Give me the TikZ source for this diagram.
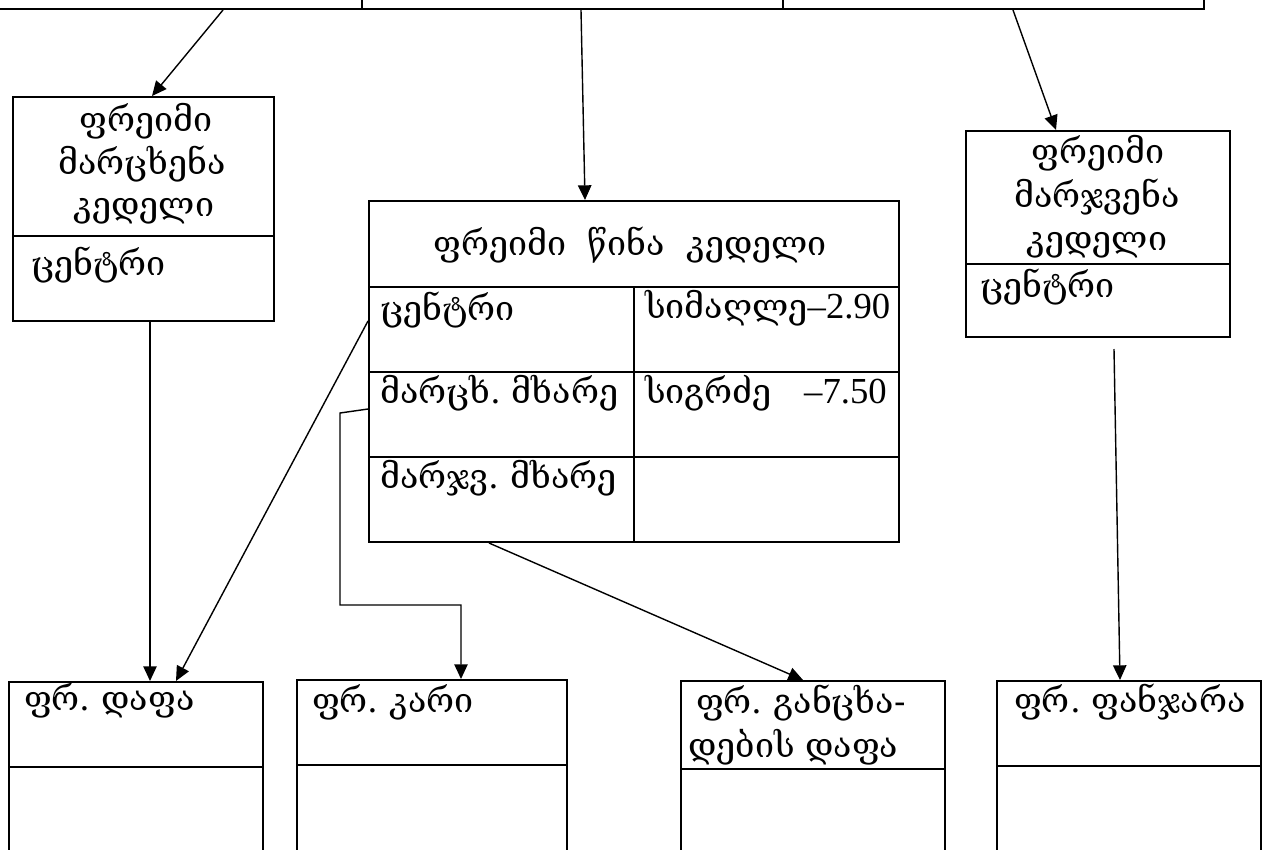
\documentclass[tikz,border=0pt]{standalone}
\usepackage{fontspec}
\setmainfont{Liberation Serif}
\newfontfamily\geo{DejaVu Serif}
\newcommand{\numfont}{\rmfamily\fontsize{27.5}{30}\selectfont}
\usetikzlibrary{arrows.meta,calc}

\begin{document}
\begin{tikzpicture}[x=0.75pt,y=-0.75pt,
  box/.style={draw, line width=1.5pt, inner sep=0pt, anchor=north west},
  sz/.style 2 args={minimum width=#1*0.75pt, minimum height=#2*0.75pt},
  conn/.style={draw, line width=1.05pt, -{Triangle[length=11pt,width=10pt]}},
  txt/.style={inner sep=0pt, font=\geo\fontsize{25.5}{30}\selectfont}
]
\useasboundingbox (0,0) rectangle (1268,850);
\clip (0,0) rectangle (1268,850);
\fill[white] (0,0) rectangle (1268,850);

% upper frame row, cut by the page edge
\node[box, sz={421}{100}] (top1) at (-60,-92) {};
\node[box, sz={421}{100}] (top2) at (361,-92) {};
\node[box, sz={421}{100}] (top3) at (782,-92) {};

% left wall frame
\node[box, sz={261}{139}] (lwh) at (12,96) {};
\node[box, sz={261}{85}]  (lwc) at (12,235) {};

% front wall frame
\node[box, sz={530}{86}] (mwh) at (368,200) {};
\node[box, sz={265}{85}] (r1l) at (368,286) {};
\node[box, sz={265}{85}] (r1r) at (633,286) {};
\node[box, sz={265}{85}] (r2l) at (368,371) {};
\node[box, sz={265}{85}] (r2r) at (633,371) {};
\node[box, sz={265}{85}] (r3l) at (368,456) {};
\node[box, sz={265}{85}] (r3r) at (633,456) {};

% right wall frame
\node[box, sz={264}{133}] (rwh) at (965,130) {};
\node[box, sz={264}{73}]  (rwc) at (965,263) {};

% lower frames
\node[box, sz={254}{85}]  (A)  at (8,681) {};
\node[box, sz={254}{120}] (A2) at (8,766) {};
\node[box, sz={270}{85}]  (B)  at (296,679) {};
\node[box, sz={270}{120}] (B2) at (296,764) {};
\node[box, sz={264}{88}]  (C)  at (680,680) {};
\node[box, sz={264}{120}] (C2) at (680,768) {};
\node[box, sz={264}{85}]  (D)  at (996,680) {};
\node[box, sz={264}{120}] (D2) at (996,765) {};

% texts
\node[txt, anchor=base] (lwt1) at (146,131) {ფრეიმი};
\node[txt, anchor=base] (lwt2) at (142,174) {მარცხენა};
\node[txt, anchor=base] (lwt3) at (144,216) {კედელი};
\node[txt, anchor=base west] (lwt4) at (31,275) {ცენტრი};

\node[txt, anchor=base] (mwt) at (630,255) {ფრეიმი\ \ წინა\ \ კედელი};
\node[txt, anchor=base west] (r1lt) at (380,320) {ცენტრი};
\node[txt, anchor=base west] (r1rt) at (645,318) {სიმაღლე{\numfont –2.90}};
\node[txt, anchor=base west] (r2lt) at (380,403) {მარცხ.\ მხარე};
\node[txt, anchor=base west] (r2rt) at (645,403) {სიგრძე};
\node[txt, anchor=base east] (r2rn) at (887,403) {\numfont –7.50};
\node[txt, anchor=base west] (r3lt) at (380,488) {მარჯვ.\ მხარე};

\node[txt, anchor=base] (rwt1) at (1098,163) {ფრეიმი};
\node[txt, anchor=base] (rwt2) at (1097,207) {მარჯვენა};
\node[txt, anchor=base] (rwt3) at (1097,250) {კედელი};
\node[txt, anchor=base west] (rwt4) at (980,297) {ცენტრი};

\node[txt, anchor=base west] (At) at (24,710) {ფრ.\ დაფა};
\node[txt, anchor=base west] (Bt) at (312,712) {ფრ.\ კარი};
\node[txt, anchor=base west] (Ct1) at (696,713) {ფრ.\ განცხა-};
\node[txt, anchor=base west] (Ct2) at (688,757) {დების\ დაფა};
\node[txt, anchor=base west] (Dt) at (1014,712) {ფრ.\ ფანჯარა};

% connectors
\draw[conn] ($(top1.south)+(71.5,0)$) -- ($(lwh.north)+(8.5,0)$);
\draw[conn] ($(top2.south)+(8.5,0)$) -- ($(mwh.north)+(-49,0)$);
\draw[conn] ($(top3.south)+(19.5,0)$) -- ($(rwh.north)+(-42,0)$);
\draw[conn] ($(lwc.south)+(6.5,0)$) -- ($(A.north)+(14,0)$);
\draw[conn] ($(r1l.west)+(0,-8.5)$) -- ($(A.north)+(40,0)$);
\coordinate (e1) at (340,413);
\coordinate (e2) at (340,605);
\draw[conn] ($(r2l.west)+(0,-5.5)$) -- (e1) -- (e2) -| ($(B.north)+(29,0)$);
\draw[conn] ($(r3l.south)+(-12.5,0)$) -- ($(C.north)+(-10,0)$);
\draw[conn] ($(rwc.south)+(16,11)$) -- ($(D.north)+(-9,0)$);
\end{tikzpicture}
\end{document}
